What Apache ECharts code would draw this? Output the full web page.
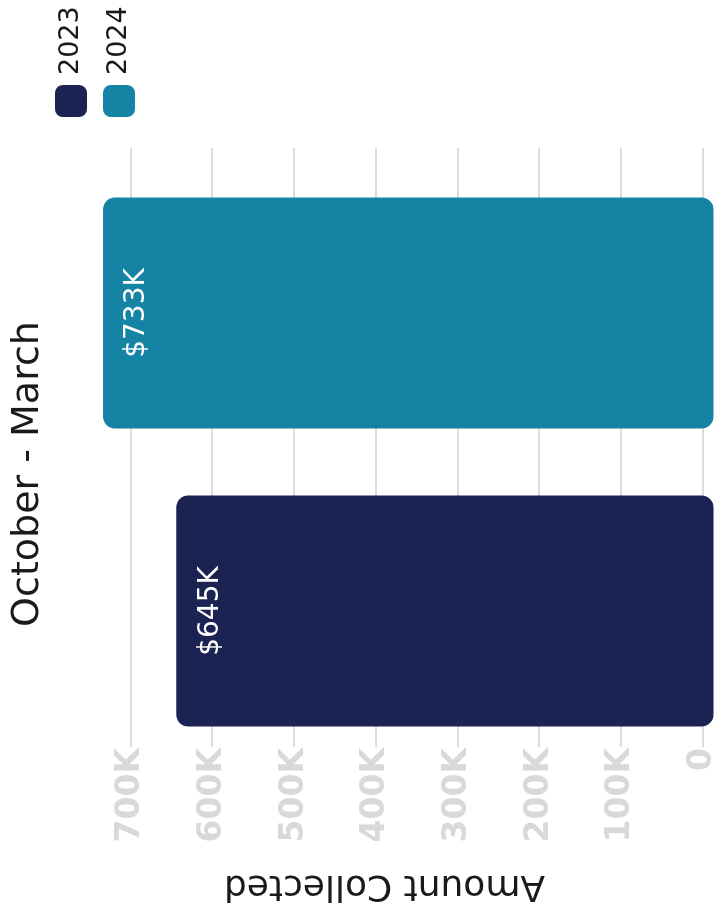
<!DOCTYPE html>
<html>
<head>
<meta charset="utf-8">
<script src="https://cdn.jsdelivr.net/npm/echarts@6/dist/echarts.min.js"></script>
<style>
  html, body { margin: 0; padding: 0; background: #fff; overflow: hidden; }
  body { width: 719px; height: 917px; position: relative; }
  /* chart is laid out upright (917 x 719) and turned a quarter turn left */
  #chart {
    position: absolute; left: 0; top: 0;
    width: 917px; height: 719px;
    transform-origin: top left;
    transform: rotate(-90deg) translateX(-917px);
  }
</style>
</head>
<body>
<div id="chart"></div>
<script>
const categories = ['October - March'];
const seriesNames = ['2023', '2024'];
const values2023 = [645000];
const values2024 = [733000];
const colors = ['#1b2352', '#1583a3'];

const FONT = 'DejaVu Sans';
const chart = echarts.init(document.getElementById('chart'), null, { renderer: 'canvas' });

function money(v) {
  return '$' + Math.round(v / 1000) + 'K';
}

function barSeries(name, data, color) {
  return {
    name: name,
    type: 'bar',
    xAxisIndex: 1,
    yAxisIndex: 1,
    data: data,
    barWidth: 231,
    barGap: '29%',
    clip: false,
    itemStyle: { color: color, borderRadius: 12 },
    label: {
      show: true,
      position: 'insideTop',
      distance: 20,
      color: '#fff',
      fontFamily: FONT,
      fontSize: 28,
      formatter: p => money(p.value)
    }
  };
}

const option = {
  animation: false,
  backgroundColor: '#fff',
  legend: {
    orient: 'vertical',
    left: 795,
    top: 50,
    itemWidth: 32,
    itemHeight: 32,
    itemGap: 16,
    icon: 'roundRect',
    data: seriesNames,
    textStyle: { fontFamily: FONT, fontSize: 27, color: '#1a1a1a', padding: [0, 0, 0, 5] }
  },
  grid: [
    // grid with the value scale, split lines and ticks
    { left: 175, right: 148, top: 130.5, bottom: 5.5 },
    // grid holding the bars (same value range, shifted band)
    { left: 158, right: 165, top: 130.5, bottom: 5.5 }
  ],
  xAxis: [
    {
      type: 'category', gridIndex: 0, data: categories,
      axisLine: { show: false }, axisTick: { show: false }, axisLabel: { show: false }
    },
    {
      type: 'category', gridIndex: 1, data: categories, position: 'top',
      axisLine: { show: false }, axisTick: { show: false },
      axisLabel: {
        margin: 83,
        fontFamily: FONT, fontSize: 38, color: '#1a1a1a',
        padding: [0, 24, 0, 0]
      }
    }
  ],
  yAxis: [
    {
      type: 'value', gridIndex: 0, min: 0, max: 700000, interval: 100000,
      name: 'Amount Collected',
      nameLocation: 'middle',
      nameRotate: 90,
      nameGap: 125,
      nameTextStyle: { fontFamily: FONT, fontSize: 36, color: '#1a1a1a', padding: [0, 0, 0, 64] },
      axisLine: { show: false },
      axisTick: { show: true, length: 5, lineStyle: { color: '#dcdcdc', width: 2 } },
      axisLabel: {
        margin: 6,
        fontFamily: FONT, fontSize: 33, fontWeight: 'bold', color: '#d9d9d9',
        formatter: v => (v === 0 ? '0' : (v / 1000) + 'K')
      },
      splitLine: { show: true, lineStyle: { color: '#dcdcdc', width: 2 } }
    },
    {
      type: 'value', gridIndex: 1, min: 0, max: 700000, interval: 100000,
      show: false, splitLine: { show: false }
    }
  ],
  series: [
    barSeries(seriesNames[0], values2023, colors[0]),
    barSeries(seriesNames[1], values2024, colors[1])
  ]
};

chart.setOption(option);
</script>
</body>
</html>
